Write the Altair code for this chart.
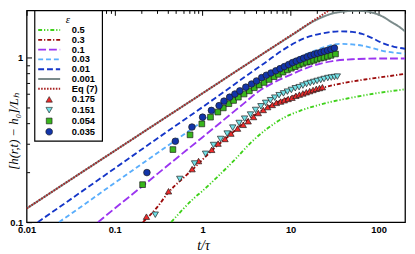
import altair as alt
import pandas as pd

# ---------------- data ----------------
series_order = ["0.5", "0.3", "0.1", "0.03", "0.01", "0.001", "Eq (7)",
                "0.175", "0.151", "0.054", "0.035"]
line_names = series_order[:7]
marker_names = series_order[7:]

# curves (t/tau, [h - h0]/L_h)
t_e05 = [0.44, 0.6, 0.8, 1, 1.5, 2.33, 3.56, 5.44, 8.34, 12.9, 19.7, 30, 46, 70, 108, 200]
h_e05 = [0.1, 0.12, 0.14, 0.155, 0.19, 0.24, 0.305, 0.37, 0.43, 0.475, 0.51, 0.54, 0.566, 0.59, 0.613, 0.64]

t_e03 = [0.21, 0.3, 0.41, 0.6, 0.8, 1, 1.4, 2, 3, 5, 7, 10, 15, 23, 40, 70, 120, 200]
h_e03 = [0.1, 0.122, 0.152, 0.185, 0.213, 0.24, 0.285, 0.335, 0.405, 0.485, 0.535, 0.575, 0.615, 0.655, 0.70, 0.735, 0.765, 0.795]

t_e01 = [0.0647, 0.1, 0.2, 0.44, 1, 2, 3, 4.4, 7, 10, 16.7, 30, 50, 100, 200]
h_e01 = [0.1, 0.121, 0.163, 0.23, 0.328, 0.444, 0.53, 0.625, 0.72, 0.785, 0.88, 0.95, 0.975, 0.985, 0.985]

t_e003 = [0.0233, 0.05, 0.1, 0.3, 1, 2, 4.4, 7, 11.7, 18, 25, 36, 50, 65, 85, 108, 150, 200]
h_e003 = [0.1, 0.133, 0.173, 0.261, 0.41, 0.535, 0.717, 0.85, 0.985, 1.09, 1.16, 1.21, 1.20, 1.18, 1.14, 1.10, 1.07, 1.055]

t_e001 = [0.0134, 0.03, 0.1, 0.3, 1, 2, 3, 5, 8.4, 14, 23, 36, 50, 65, 85, 108, 150, 200]
h_e001 = [0.1, 0.135, 0.212, 0.32, 0.50, 0.65, 0.76, 0.92, 1.12, 1.30, 1.40, 1.44, 1.43, 1.39, 1.31, 1.23, 1.16, 1.13]

t_e0001 = [0.01, 0.03, 0.1, 0.3, 1, 3, 10, 20, 30, 40, 55, 70, 85, 100, 120, 140, 170, 200]
h_e0001 = [0.121, 0.178, 0.271, 0.398, 0.606, 0.891, 1.35, 1.70, 1.85, 1.90, 1.92, 1.91, 1.87, 1.82, 1.73, 1.64, 1.54, 1.44]

t_eq7 = [0.01, 0.03, 0.1, 0.3, 1, 3, 10, 27.5]
h_eq7 = [0.121, 0.178, 0.271, 0.398, 0.606, 0.891, 1.358, 1.935]

# experimental markers
t_m0175 = [0.23, 0.41, 0.76, 0.9, 1.27, 1.5, 1.8, 2.1, 2.5, 2.9, 3.3, 3.8, 4.3, 4.9, 5.5,
           6.2, 6.9, 7.7, 8.5, 9.4, 10.4, 11.5, 12.6, 13.8, 15.1, 16.5, 18, 19.6, 21.3, 23]
h_m0175 = [0.108, 0.154, 0.21, 0.235, 0.275, 0.30, 0.32, 0.345, 0.37, 0.39, 0.41, 0.435, 0.46, 0.48, 0.50,
           0.515, 0.53, 0.54, 0.55, 0.56, 0.57, 0.585, 0.595, 0.605, 0.615, 0.625, 0.635, 0.645, 0.652, 0.66]

t_m0151 = [0.29, 0.55, 0.81, 1.08, 1.33, 1.6, 1.9, 2.2, 2.6, 3.0, 3.5, 4.0, 4.6, 5.2, 5.9, 6.6, 7.4,
           8.3, 9.2, 10.2, 11.3, 12.5, 13.8, 15.2, 16.7, 18.3, 20, 22, 24, 26.5, 29, 31.5, 34]
h_m0151 = [0.111, 0.183, 0.227, 0.26, 0.294, 0.32, 0.345, 0.375, 0.40, 0.425, 0.45, 0.48, 0.505, 0.53, 0.55, 0.57, 0.59,
           0.605, 0.62, 0.635, 0.65, 0.66, 0.675, 0.69, 0.70, 0.71, 0.72, 0.73, 0.74, 0.75, 0.755, 0.76, 0.765]

t_m0054 = [0.208, 0.46, 0.72, 0.98, 1.23, 1.49, 1.72, 1.99, 2.25, 2.55, 2.96, 3.4, 3.87, 4.4, 5.0, 5.7, 6.5,
           7.3, 8.2, 9.2, 10.2, 11.3, 12.5, 13.8, 15.2, 16.7, 18.3, 20, 21.9, 24, 26.3, 28.8, 32.4]
h_m0054 = [0.169, 0.276, 0.339, 0.395, 0.434, 0.466, 0.494, 0.524, 0.548, 0.574, 0.60, 0.627, 0.655, 0.68, 0.705, 0.735, 0.765,
           0.79, 0.815, 0.84, 0.86, 0.88, 0.90, 0.92, 0.935, 0.945, 0.96, 0.975, 0.99, 1.0, 1.015, 1.03, 1.05]

t_m0035 = [0.233, 0.49, 0.757, 1.0, 1.26, 1.54, 1.75, 2.03, 2.33, 2.65, 3.1, 3.6, 4.1, 4.7, 5.3, 6.0, 6.8,
           7.6, 8.5, 9.5, 10.5, 11.6, 12.8, 14.1, 15.5, 17, 18.6, 20.3, 22.2, 24.2, 26.4, 28.8, 31.5]
h_m0035 = [0.2, 0.31, 0.378, 0.434, 0.477, 0.51, 0.543, 0.574, 0.6, 0.627, 0.66, 0.69, 0.72, 0.755, 0.78, 0.805, 0.83,
           0.855, 0.88, 0.905, 0.93, 0.95, 0.97, 0.99, 1.01, 1.03, 1.045, 1.06, 1.075, 1.09, 1.105, 1.12, 1.14]

x_major = [0.01, 0.1, 1, 10, 100]
x_ticks = [0.01, 0.02, 0.03, 0.04, 0.05, 0.06, 0.07, 0.08, 0.09,
           0.1, 0.2, 0.3, 0.4, 0.5, 0.6, 0.7, 0.8, 0.9,
           1, 2, 3, 4, 5, 6, 7, 8, 9,
           10, 20, 30, 40, 50, 60, 70, 80, 90, 100, 200]
y_major = [0.1, 1]
y_ticks = [0.1, 0.2, 0.3, 0.4, 0.5, 0.6, 0.7, 0.8, 0.9, 1]

# ---------------- styles ----------------
line_colors = ["#3fd11a", "#9c0a0a", "#9b35f0", "#5aaefc", "#1536c8", "#7b8b8b", "#a82424"]
marker_fill = ["#f02a2a", "#72e0e6", "#38b61c", "#1234a8"]
marker_edge = "#1e1e1e"

stroke_range = line_colors + [marker_edge] * 4
fill_range = ["transparent"] * 7 + marker_fill
dash_range = [[4, 2, 1.2, 2, 1.2, 2], [4, 2, 1.2, 2], [8, 3], [5, 3], [6, 3], [1, 0], [1.6, 1.4],
              [1, 0], [1, 0], [1, 0], [1, 0]]
width_range = [1.9, 1.9, 1.9, 1.9, 1.9, 2.0, 2.0, 0.7, 0.7, 0.7, 0.7]
shape_range = ["M-2.8,0H2.8"] * 7 + ["triangle-up", "triangle-down", "square", "circle"]
size_range = [64] * 7 + [42, 42, 34, 46]

# ---------------- tables ----------------
line_t = [t_e05, t_e03, t_e01, t_e003, t_e001, t_e0001, t_eq7]
line_h = [h_e05, h_e03, h_e01, h_e003, h_e001, h_e0001, h_eq7]
mark_t = [t_m0175, t_m0151, t_m0054, t_m0035]
mark_h = [h_m0175, h_m0151, h_m0054, h_m0035]

lines_df = pd.concat([pd.DataFrame({"series": n, "t": t, "h": h})
                      for n, t, h in zip(line_names, line_t, line_h)], ignore_index=True)
marks_df = pd.concat([pd.DataFrame({"series": n, "t": t, "h": h})
                      for n, t, h in zip(marker_names, mark_t, mark_h)], ignore_index=True)

major_x_test = "indexof([0.01,0.1,1,10,100], datum.value) >= 0"
major_y_test = "indexof([0.1,1], datum.value) >= 0"

x_axis = alt.Axis(
    values=x_ticks, ticks=False, domain=False,
    grid=True, gridColor="black", gridWidth=1, gridOpacity=1,
    gridDash={"condition": {"test": major_x_test, "value": [5, 1000]}, "value": [3, 1000]},
    labelExpr=major_x_test + " ? format(datum.value, '~g') : ''",
    labelFont="Liberation Sans", labelFontSize=9.5, labelFontWeight="bold", labelColor="black",
    labelPadding=3, labelFlush=False, labelOverlap=False,
    title="t/τ", titleFont="Liberation Serif", titleFontStyle="italic", titleFontWeight="normal",
    titleFontSize=14, titleColor="black", titleX=180, titleY=28, titleBaseline="alphabetic",
    titleAlign="center",
)
y_axis = alt.Axis(
    values=y_ticks, ticks=False, domain=False,
    grid=True, gridColor="black", gridWidth=1, gridOpacity=1,
    gridDash={"condition": {"test": major_y_test, "value": [5, 1000]}, "value": [3, 1000]},
    labelExpr=major_y_test + " ? format(datum.value, '~g') : ''",
    labelFont="Liberation Sans", labelFontSize=9.5, labelFontWeight="bold", labelColor="black",
    labelPadding=4, labelFlush=False, labelOverlap=False,
    title="[h(r,t) − h₀]/Lₕ", titleFont="Liberation Serif", titleFontStyle="italic",
    titleFontWeight="normal", titleFontSize=13, titleColor="black",
    titleAngle=270, titleX=-13, titleY=123, titleBaseline="middle", titleAlign="center",
)

x_enc = alt.X("t:Q", scale=alt.Scale(type="log", domain=[0.01, 200], nice=False), axis=x_axis)
y_enc = alt.Y("h:Q", scale=alt.Scale(type="log", domain=[0.1, 1.93], nice=False), axis=y_axis)

legend = alt.Legend(title="ε", titleAnchor="middle", titleAlign="center",
                    symbolOffset=6, labelOffset=18)

stroke_enc = alt.Stroke("series:N", legend=legend, sort=series_order,
                        scale=alt.Scale(domain=series_order, range=stroke_range))
width_enc = alt.StrokeWidth("series:N", legend=legend, sort=series_order,
                            scale=alt.Scale(type="ordinal", domain=series_order, range=width_range))

lines = alt.Chart(lines_df).mark_line(clip=True, strokeCap="butt", interpolate="monotone").encode(
    x=x_enc, y=y_enc,
    stroke=stroke_enc,
    strokeDash=alt.StrokeDash("series:N", legend=legend, sort=series_order,
                              scale=alt.Scale(domain=series_order, range=dash_range)),
    strokeWidth=width_enc,
)

points = alt.Chart(marks_df).mark_point(filled=True, opacity=1, clip=True).encode(
    x=x_enc, y=y_enc,
    fill=alt.Fill("series:N", legend=legend, sort=series_order,
                  scale=alt.Scale(domain=series_order, range=fill_range)),
    stroke=stroke_enc,
    shape=alt.Shape("series:N", legend=legend, sort=series_order,
                    scale=alt.Scale(domain=series_order, range=shape_range)),
    size=alt.Size("series:N", legend=legend, sort=series_order,
                  scale=alt.Scale(type="ordinal", domain=series_order, range=size_range)),
    strokeWidth=width_enc,
)

chart = alt.layer(lines, points).properties(
    width=386, height=216,
    autosize=alt.AutoSizeParams(type="none"),
    padding={"left": 19, "top": 0, "right": 2, "bottom": 30},
).configure_view(
    stroke="black", strokeWidth=1.3
).configure_legend(
    orient="none", legendX=8, legendY=0, direction="vertical",
    strokeColor="black", strokeWidth=1.2, fillColor="white", padding=4,
    titleFont="Liberation Serif", titleFontStyle="italic", titleFontWeight="normal",
    titleFontSize=11, titleColor="black", titlePadding=0,
    labelFont="Liberation Sans", labelFontSize=9.5, labelFontWeight="bold", labelColor="black",
    rowPadding=0,
)

chart.save("out.html", embed_options={"renderer": "svg", "actions": False})
